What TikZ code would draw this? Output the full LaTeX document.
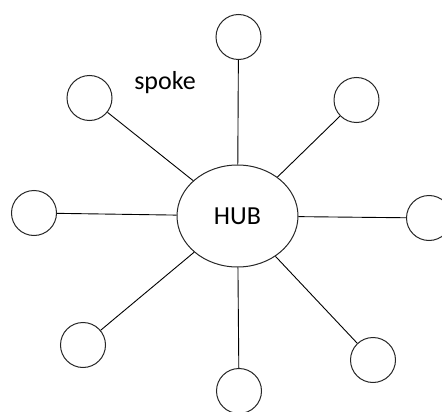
\documentclass[tikz,border=0pt]{standalone}
\usepackage{fontspec}
\setmainfont{Carlito}
\usetikzlibrary{shapes.geometric}

\begin{document}
\begin{tikzpicture}[x=1pt,y=-1pt,every node/.style={font=\fontsize{26}{30}\selectfont},
  rim/.style={circle,draw=black!85,line width=1pt,minimum size=45pt,inner sep=0pt},
  hub/.style={ellipse,draw=black!85,line width=1pt,minimum width=121pt,minimum height=102pt,inner sep=0pt},
  every edge/.style={draw,line width=0.9pt}]
  \useasboundingbox (0,0) rectangle (442,412);
  \node[hub] (h) at (237.5,216) {HUB};
  \node[rim] (t) at (238.5,37) {};
  \node[rim] (tl) at (89.5,98) {};
  \node[rim] (tr) at (356.5,100) {};
  \node[rim] (l) at (34,213) {};
  \node[rim] (r) at (429,218) {};
  \node[rim] (bl) at (83,345) {};
  \node[rim] (b) at (239,391) {};
  \node[rim] (br) at (373,360) {};
  \node[anchor=base] (lbl) at (165,89) {spoke};
  \path (h) edge (t)
  (h) edge (tl)
  (h) edge (tr)
  (h) edge (l)
  (h) edge (r)
  (h) edge (bl)
  (h) edge (b)
  (h) edge (br)
  ;
\end{tikzpicture}
\end{document}
